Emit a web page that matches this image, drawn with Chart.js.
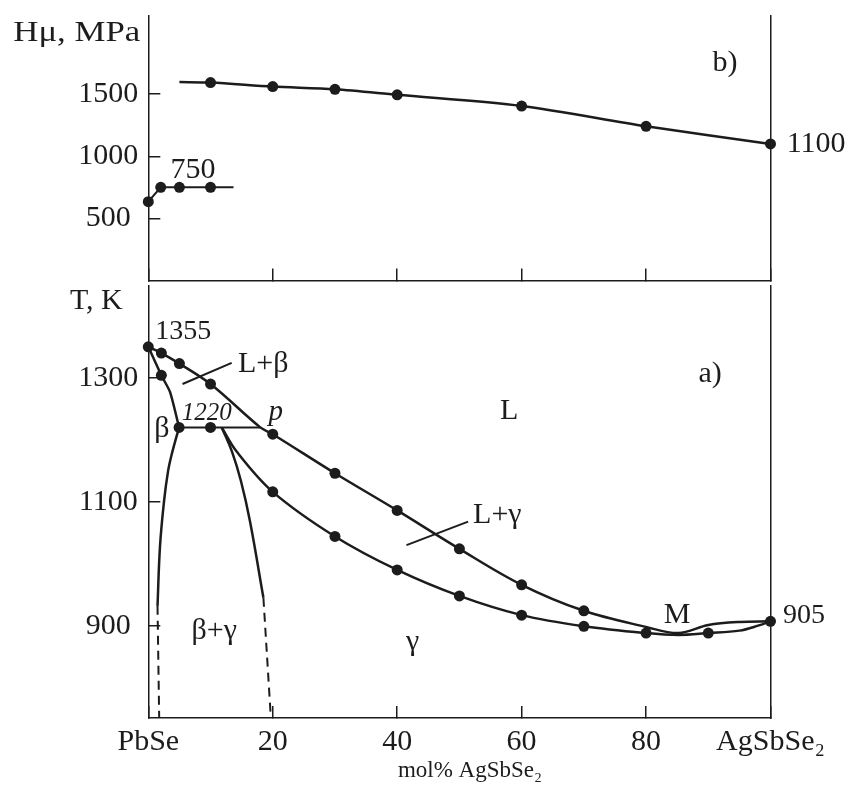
<!DOCTYPE html>
<html lang="en">
<head>
<meta charset="UTF-8">
<title>PbSe - AgSbSe2</title>
<script src="https://cdn.jsdelivr.net/npm/chart.js"></script>
<style>
  body { margin: 0; background: #fff; }
  #wrap { position: relative; width: 850px; height: 787px; }
  canvas { position: absolute; left: 0; }
  #hChart { top: 0; }
  #tChart { top: 280px; }
</style>
</head>
<body>
<div id="wrap">
  <canvas id="hChart" width="850" height="286"></canvas>
  <canvas id="tChart" width="850" height="507"></canvas>
</div>
<script>
// composition axis, mol% AgSbSe2
const xTicks = [0, 20, 40, 60, 80, 100];
const xTickNames = { 0: 'PbSe', 100: 'AgSbSe₂' };

// b) microhardness, MPa
const hTicks = [500, 1000, 1500];
const hLowX = [0, 2, 5, 10, 13.7];
const hLowY = [635, 750, 750, 750, 750];
const hLowDots = [1, 1, 1, 1, 0];
const hHighX = [5, 10, 20, 30, 40, 60, 80, 100];
const hHighY = [1598, 1594, 1562, 1540, 1495, 1405, 1242, 1100];
const hHighDots = [0, 1, 1, 1, 1, 1, 1, 1];

// a) phase diagram, K
const tTicks = [900, 1100, 1300];
const liqX = [0, 2.1, 5, 10, 18, 20, 30, 40, 50, 60, 70, 80, 85.2, 90, 95, 100];
const liqT = [1350, 1340, 1323, 1290, 1220, 1209, 1146, 1086, 1024, 966, 924, 898, 888, 901, 906, 907];
const liqDots = [1, 1, 1, 1, 0, 1, 1, 1, 1, 1, 1, 0, 0, 0, 0, 1];

const betaSolidusX = [0, 2.1, 3.5, 4.95];
const betaSolidusT = [1350, 1304, 1277, 1220];
const betaSolidusDots = [0, 1, 0, 1];

const tieX = [4.95, 10, 18];
const tieT = [1220, 1220, 1220];
const tieDots = [0, 1, 0];

const betaSolvusX = [4.95, 3.8, 3.17, 2.52, 1.88, 1.48];
const betaSolvusT = [1220, 1178, 1149, 1100, 1028, 932];
const betaSolvusDashX = [1.48, 1.75];
const betaSolvusDashT = [932, 751];

const gammaSolvusX = [11.8, 13.45, 14.9, 16.35, 18.5];
const gammaSolvusT = [1220, 1181, 1133, 1068, 945];
const gammaSolvusDashX = [18.5, 19.7];
const gammaSolvusDashT = [945, 751];

const solidusX = [11.8, 14.2, 20, 30, 40, 50, 60, 70, 80, 85.2, 90, 95, 98, 100];
const solidusT = [1220, 1181, 1116, 1044, 990, 948, 917, 899, 888, 885, 888, 892, 900, 907];
const solidusDots = [0, 0, 1, 1, 1, 1, 1, 1, 1, 0, 1, 0, 0, 0];

// leader lines for region labels
const lbLeadX = [5.5, 13.4];
const lbLeadT = [1290, 1324];
const lgLeadX = [41.5, 51.4];
const lgLeadT = [1030, 1068];

const ink = '#1c1c1c';
const serif = '"Liberation Serif", "Times New Roman", serif';
const font30 = { family: serif, size: 30 };

function pts(xs, ys) {
    return xs.map((x, i) => ({ x: x, y: ys[i] }));
}

function series(xs, ys, dots, extra) {
    return Object.assign({
        data: pts(xs, ys),
        borderColor: ink,
        backgroundColor: ink,
        borderWidth: 2.5,
        tension: 0.35,
        clip: false,
        pointBorderWidth: 0,
        pointBackgroundColor: ink,
        pointRadius: dots ? (c => dots[c.dataIndex] ? 5.5 : 0) : 0
    }, extra || {});
}

// free text placed in data coordinates
const notesPlugin = {
    id: 'notes',
    afterDraw(chart, args, opts) {
        const { ctx, scales } = chart;
        ctx.fillStyle = ink;
        opts.items.forEach(n => {
            ctx.save();
            ctx.font = n.font || ('30px ' + serif);
            ctx.textAlign = n.align || 'center';
            ctx.textBaseline = 'alphabetic';
            ctx.translate(scales.x.getPixelForValue(n.x), scales.y.getPixelForValue(n.y));
            ctx.scale(n.sx || 1, 1);
            ctx.fillText(n.text, 0, 0);
            ctx.restore();
        });
    }
};

function xAxis(withLabels) {
    return {
        type: 'linear', min: 0, max: 100,
        afterBuildTicks: s => { s.ticks = xTicks.map(v => ({ value: v })); },
        afterFit: s => { s.height = withLabels ? 69 : 3; s.paddingLeft = 0; s.paddingRight = 0; },
        grid: { drawOnChartArea: false, tickLength: -12, color: ink, lineWidth: 1.5 },
        border: { color: ink, width: 1.5 },
        ticks: {
            display: withLabels, padding: 18, font: font30, color: ink,
            maxRotation: 0, autoSkip: false,
            callback: v => xTickNames[v] || String(v)
        }
    };
}

function yAxis(min, max, tickVals) {
    return {
        type: 'linear', min: min, max: max,
        afterBuildTicks: s => { s.ticks = tickVals.map(v => ({ value: v })); },
        afterFit: s => { s.width = 148.3; s.paddingTop = 0; s.paddingBottom = 0; },
        grid: { drawOnChartArea: false, tickLength: -12, color: ink, lineWidth: 1.5 },
        border: { color: ink, width: 1.5 },
        ticks: { padding: 22, crossAlign: 'center', font: font30, color: ink, callback: v => String(v) }
    };
}

const rightAxis = {
    position: 'right', type: 'linear', min: 0, max: 1,
    afterFit: s => { s.width = 0; s.paddingTop = 0; s.paddingBottom = 0; },
    grid: { display: false },
    ticks: { display: false },
    border: { color: ink, width: 1.5 }
};

function baseOptions(padTop, scales, notes) {
    return {
        responsive: false,
        animation: false,
        devicePixelRatio: 1,
        events: [],
        layout: { padding: { left: 0, right: 79.5, top: padTop, bottom: 0 } },
        plugins: { legend: { display: false }, tooltip: { enabled: false }, notes: { items: notes } },
        scales: scales
    };
}

// top panel (b)
new Chart(document.getElementById('hChart'), {
    type: 'line',
    data: {
        datasets: [
            series(hLowX, hLowY, hLowDots, { tension: 0, borderWidth: 2 }),
            series(hHighX, hHighY, hHighDots, { tension: 0.3 })
        ]
    },
    options: baseOptions(16, {
        x: xAxis(false),
        y: yAxis(0, 2130, hTicks),
        yR: rightAxis
    }, [
        { text: 'Hμ, MPa', x: -21.7, y: 1925, align: 'left', sx: 1.16 },
        { text: 'b)', x: 92.7, y: 1688 },
        { text: '1100', x: 102.6, y: 1036, align: 'left' },
        { text: '750', x: 7.2, y: 823 }
    ]),
    plugins: [notesPlugin]
});

// bottom panel (a)
new Chart(document.getElementById('tChart'), {
    type: 'line',
    data: {
        datasets: [
            series(liqX, liqT, liqDots),
            series(betaSolidusX, betaSolidusT, betaSolidusDots, { tension: 0.2 }),
            series(tieX, tieT, tieDots, { tension: 0, borderWidth: 2 }),
            series(betaSolvusX, betaSolvusT, null, { tension: 0.4 }),
            series(betaSolvusDashX, betaSolvusDashT, null, { tension: 0, borderWidth: 2, borderDash: [9, 6] }),
            series(gammaSolvusX, gammaSolvusT, null, { tension: 0.4 }),
            series(gammaSolvusDashX, gammaSolvusDashT, null, { tension: 0, borderWidth: 2, borderDash: [9, 6] }),
            series(solidusX, solidusT, solidusDots),
            series(lbLeadX, lbLeadT, null, { tension: 0, borderWidth: 2 }),
            series(lgLeadX, lgLeadT, null, { tension: 0, borderWidth: 2 })
        ]
    },
    options: baseOptions(3, {
        x: xAxis(true),
        y: yAxis(751, 1449, tTicks),
        yR: rightAxis
    }, [
        { text: 'T, K', x: -12.6, y: 1411, align: 'left' },
        { text: '1355', x: 1.1, y: 1362, align: 'left', font: '28px ' + serif },
        { text: 'L+β', x: 14.4, y: 1309, align: 'left' },
        { text: 'a)', x: 90.3, y: 1293 },
        { text: 'L', x: 58, y: 1234 },
        { text: 'β', x: 2.2, y: 1204 },
        { text: '1220', x: 9.4, y: 1232, font: 'italic 25px ' + serif },
        { text: 'p', x: 20.5, y: 1232, font: 'italic 29px ' + serif },
        { text: 'L+γ', x: 52.2, y: 1066, align: 'left' },
        { text: 'γ', x: 42.5, y: 860 },
        { text: 'β+γ', x: 10.6, y: 879 },
        { text: 'M', x: 85, y: 905 },
        { text: '905', x: 102, y: 905, align: 'left', font: '28px ' + serif },
        { text: 'mol% AgSbSe₂', x: 51.7, y: 655, font: '23px ' + serif }
    ]),
    plugins: [notesPlugin]
});
</script>
</body>
</html>
